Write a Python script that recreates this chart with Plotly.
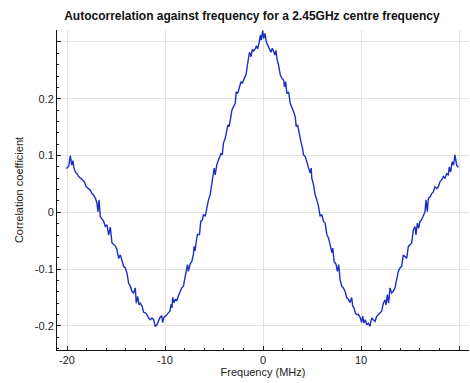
import plotly.graph_objects as go

# Frequency offset (MHz)
freq_mhz = [
    -20.07, -19.83, -19.66, -19.52, -19.39, -19.32, -19.15, -18.98, -18.81, -18.64,
    -18.47, -18.23, -18.03, -17.79, -17.62, -17.45, -17.28, -17.11, -16.94, -16.84,
    -16.73, -16.60, -16.43, -16.26, -16.09, -15.92, -15.75, -15.58, -15.41, -15.24,
    -15.07, -14.90, -14.73, -14.56, -14.39, -14.22, -14.05, -13.88, -13.71, -13.54,
    -13.37, -13.20, -13.03, -12.93, -12.79, -12.65, -12.52, -12.35, -12.18, -12.01,
    -11.84, -11.67, -11.50, -11.33, -11.16, -10.99, -10.82, -10.65,
    -10.51, -10.34, -10.24, -10.10, -9.90, -9.66, -9.49, -9.39, -9.28, -9.22,
    -9.08, -8.94, -8.81, -8.63, -8.46, -8.29, -8.12, -7.99, -7.85, -7.71,
    -7.61, -7.44, -7.27, -7.10, -7.03, -6.93, -6.83, -6.69, -6.48, -6.35,
    -6.18, -6.08, -5.90, -5.73, -5.56, -5.39, -5.22, -5.05, -4.98, -4.88,
    -4.71, -4.54, -4.37, -4.27, -4.16, -4.03, -3.86, -3.69, -3.58, -3.45,
    -3.34, -3.17, -3.00, -2.83, -2.73, -2.59, -2.39, -2.25, -2.12, -1.91,
    -1.71, -1.57, -1.47, -1.37, -1.23, -1.09, -0.96, -0.78, -0.68, -0.55,
    -0.41, -0.27, -0.17, -0.03,
    0.07, 0.20, 0.34, 0.47, 0.68, 0.81, 0.95, 1.08, 1.22, 1.32,
    1.42, 1.59, 1.76, 1.93, 2.10, 2.20, 2.31, 2.44, 2.61, 2.78,
    2.95, 3.12, 3.29, 3.39, 3.53, 3.69, 3.86, 4.03, 4.14, 4.31,
    4.47, 4.64, 4.81, 4.92, 4.98, 5.15, 5.32, 5.49, 5.66, 5.83,
    6.00, 6.17, 6.34, 6.51, 6.68, 6.85, 7.02, 7.12, 7.25, 7.46,
    7.59, 7.73, 7.86, 8.03, 8.20, 8.37, 8.54, 8.71, 8.88, 9.05,
    9.15, 9.29, 9.42, 9.56, 9.73, 9.90, 10.07,
    10.17, 10.31, 10.44, 10.58, 10.75, 10.92, 11.09, 11.26, 11.43, 11.60,
    11.77, 11.94, 12.11, 12.28, 12.45, 12.55, 12.69, 12.82, 12.96, 13.13,
    13.30, 13.47, 13.64, 13.81, 13.98, 14.15, 14.32, 14.49, 14.66, 14.83,
    15.00, 15.17, 15.34, 15.51, 15.61, 15.75, 15.88, 16.02, 16.19, 16.36,
    16.53, 16.63, 16.77, 16.87, 17.04, 17.21, 17.38, 17.55, 17.72, 17.89,
    18.06, 18.23, 18.40, 18.57, 18.74, 18.91, 19.01, 19.15, 19.29, 19.44,
    19.59, 19.76, 19.93,
]

# Correlation coefficient
correlation = [
    0.077, 0.081, 0.100, 0.083, 0.091, 0.080, 0.071, 0.068, 0.063, 0.060,
    0.058, 0.054, 0.045, 0.042, 0.039, 0.033, 0.030, 0.025, 0.016, 0.001,
    0.022, -0.008, -0.013, -0.016, -0.025, -0.022, -0.040, -0.026, -0.054, -0.056,
    -0.059, -0.066, -0.081, -0.075, -0.084, -0.095, -0.098, -0.107, -0.125, -0.130,
    -0.139, -0.142, -0.133, -0.160, -0.148, -0.163, -0.160, -0.165, -0.176, -0.177,
    -0.180, -0.186, -0.189, -0.186, -0.189, -0.201, -0.198, -0.189,
    -0.185, -0.182, -0.194, -0.184, -0.182, -0.177, -0.174, -0.162, -0.168, -0.150,
    -0.159, -0.153, -0.156, -0.147, -0.139, -0.133, -0.130, -0.118, -0.104, -0.092,
    -0.104, -0.091, -0.087, -0.074, -0.060, -0.068, -0.054, -0.039, -0.039, -0.016,
    -0.013, -0.004, -0.007, 0.011, 0.022, 0.031, 0.049, 0.063, 0.078, 0.066,
    0.084, 0.092, 0.101, 0.104, 0.101, 0.122, 0.130, 0.142, 0.154, 0.151,
    0.163, 0.180, 0.186, 0.192, 0.212, 0.209, 0.221, 0.230, 0.227, 0.236,
    0.244, 0.262, 0.274, 0.282, 0.274, 0.287, 0.284, 0.288, 0.293, 0.288,
    0.297, 0.312, 0.303, 0.320,
    0.306, 0.315, 0.300, 0.294, 0.288, 0.282, 0.289, 0.282, 0.277, 0.285,
    0.271, 0.259, 0.242, 0.236, 0.233, 0.221, 0.230, 0.209, 0.212, 0.192,
    0.186, 0.177, 0.168, 0.151, 0.154, 0.136, 0.125, 0.113, 0.101, 0.098,
    0.089, 0.078, 0.069, 0.078, 0.060, 0.049, 0.031, 0.022, 0.011, -0.007,
    -0.004, -0.016, -0.019, -0.039, -0.045, -0.057, -0.071, -0.063, -0.086, -0.092,
    -0.104, -0.092, -0.118, -0.130, -0.133, -0.139, -0.150, -0.153, -0.159, -0.150,
    -0.165, -0.168, -0.177, -0.180, -0.180, -0.185, -0.194,
    -0.183, -0.195, -0.189, -0.198, -0.195, -0.201, -0.186, -0.189, -0.192, -0.183,
    -0.180, -0.177, -0.174, -0.160, -0.154, -0.163, -0.145, -0.160, -0.133, -0.142,
    -0.139, -0.133, -0.119, -0.104, -0.098, -0.095, -0.075, -0.078, -0.081, -0.060,
    -0.056, -0.054, -0.031, -0.025, -0.040, -0.019, -0.028, -0.016, -0.013, -0.005,
    0.001, 0.022, 0.001, 0.025, 0.027, 0.033, 0.036, 0.045, 0.042, 0.045,
    0.054, 0.057, 0.063, 0.060, 0.068, 0.066, 0.080, 0.071, 0.089, 0.083,
    0.101, 0.083, 0.079,
]

x_tick_vals = [-20, -10, 0, 10, 20]
x_tick_text = ["-20", "-10", "0", "10", ""]
y_tick_vals = [-0.2, -0.1, 0, 0.1, 0.2, 0.3]
y_tick_text = ["-0.2", "-0.1", "0", "0.1", "0.2", ""]

FONT = "Liberation Sans, Arial, Helvetica, sans-serif"

fig = go.Figure()
fig.add_trace(go.Scatter(
    x=freq_mhz, y=correlation, mode="lines",
    line=dict(color="#1a30c0", width=1.4),
    showlegend=False, hoverinfo="skip",
))

fig.update_layout(
    width=470, height=383,
    margin=dict(l=57, r=1, t=30, b=33, autoexpand=False),
    paper_bgcolor="white", plot_bgcolor="white",
    font=dict(family=FONT, size=11, color="#222222"),
    title=dict(
        text="<b>Autocorrelation against frequency for a 2.45GHz centre frequency</b>",
        x=0.473, xref="paper", xanchor="center",
        y=1 - 16 / 383, yref="container", yanchor="middle",
        font=dict(family=FONT, size=12, color="#111111"),
    ),
)

fig.update_xaxes(
    range=[-21.02, 21.02],
    tickvals=x_tick_vals, ticktext=x_tick_text,
    ticks="inside", ticklen=4, tickcolor="#222222", tickwidth=1,
    minor=dict(dtick=2, ticks="inside", ticklen=2, tickcolor="#222222", showgrid=False),
    showgrid=True, gridcolor="#e3e3e3", gridwidth=1,
    showline=True, linecolor="#111111", linewidth=1,
    zeroline=False, automargin=False,
    title=dict(text="Frequency (MHz)", standoff=3, font=dict(size=11)),
    tickfont=dict(size=11),
)
fig.update_yaxes(
    range=[-0.2424, 0.321],
    tickvals=y_tick_vals, ticktext=y_tick_text,
    ticks="inside", ticklen=4, tickcolor="#222222", tickwidth=1,
    minor=dict(dtick=0.02, tick0=0, ticks="inside", ticklen=2, tickcolor="#222222", showgrid=False),
    showgrid=True, gridcolor="#e3e3e3", gridwidth=1,
    showline=True, linecolor="#111111", linewidth=1,
    zeroline=False, automargin=False,
    title=dict(text="Correlation coefficient", standoff=8, font=dict(size=11)),
    tickfont=dict(size=11),
)

fig.write_html(
    "out.html",
    config={"displayModeBar": False},
    post_script="document.body.style.margin='0px';",
)
